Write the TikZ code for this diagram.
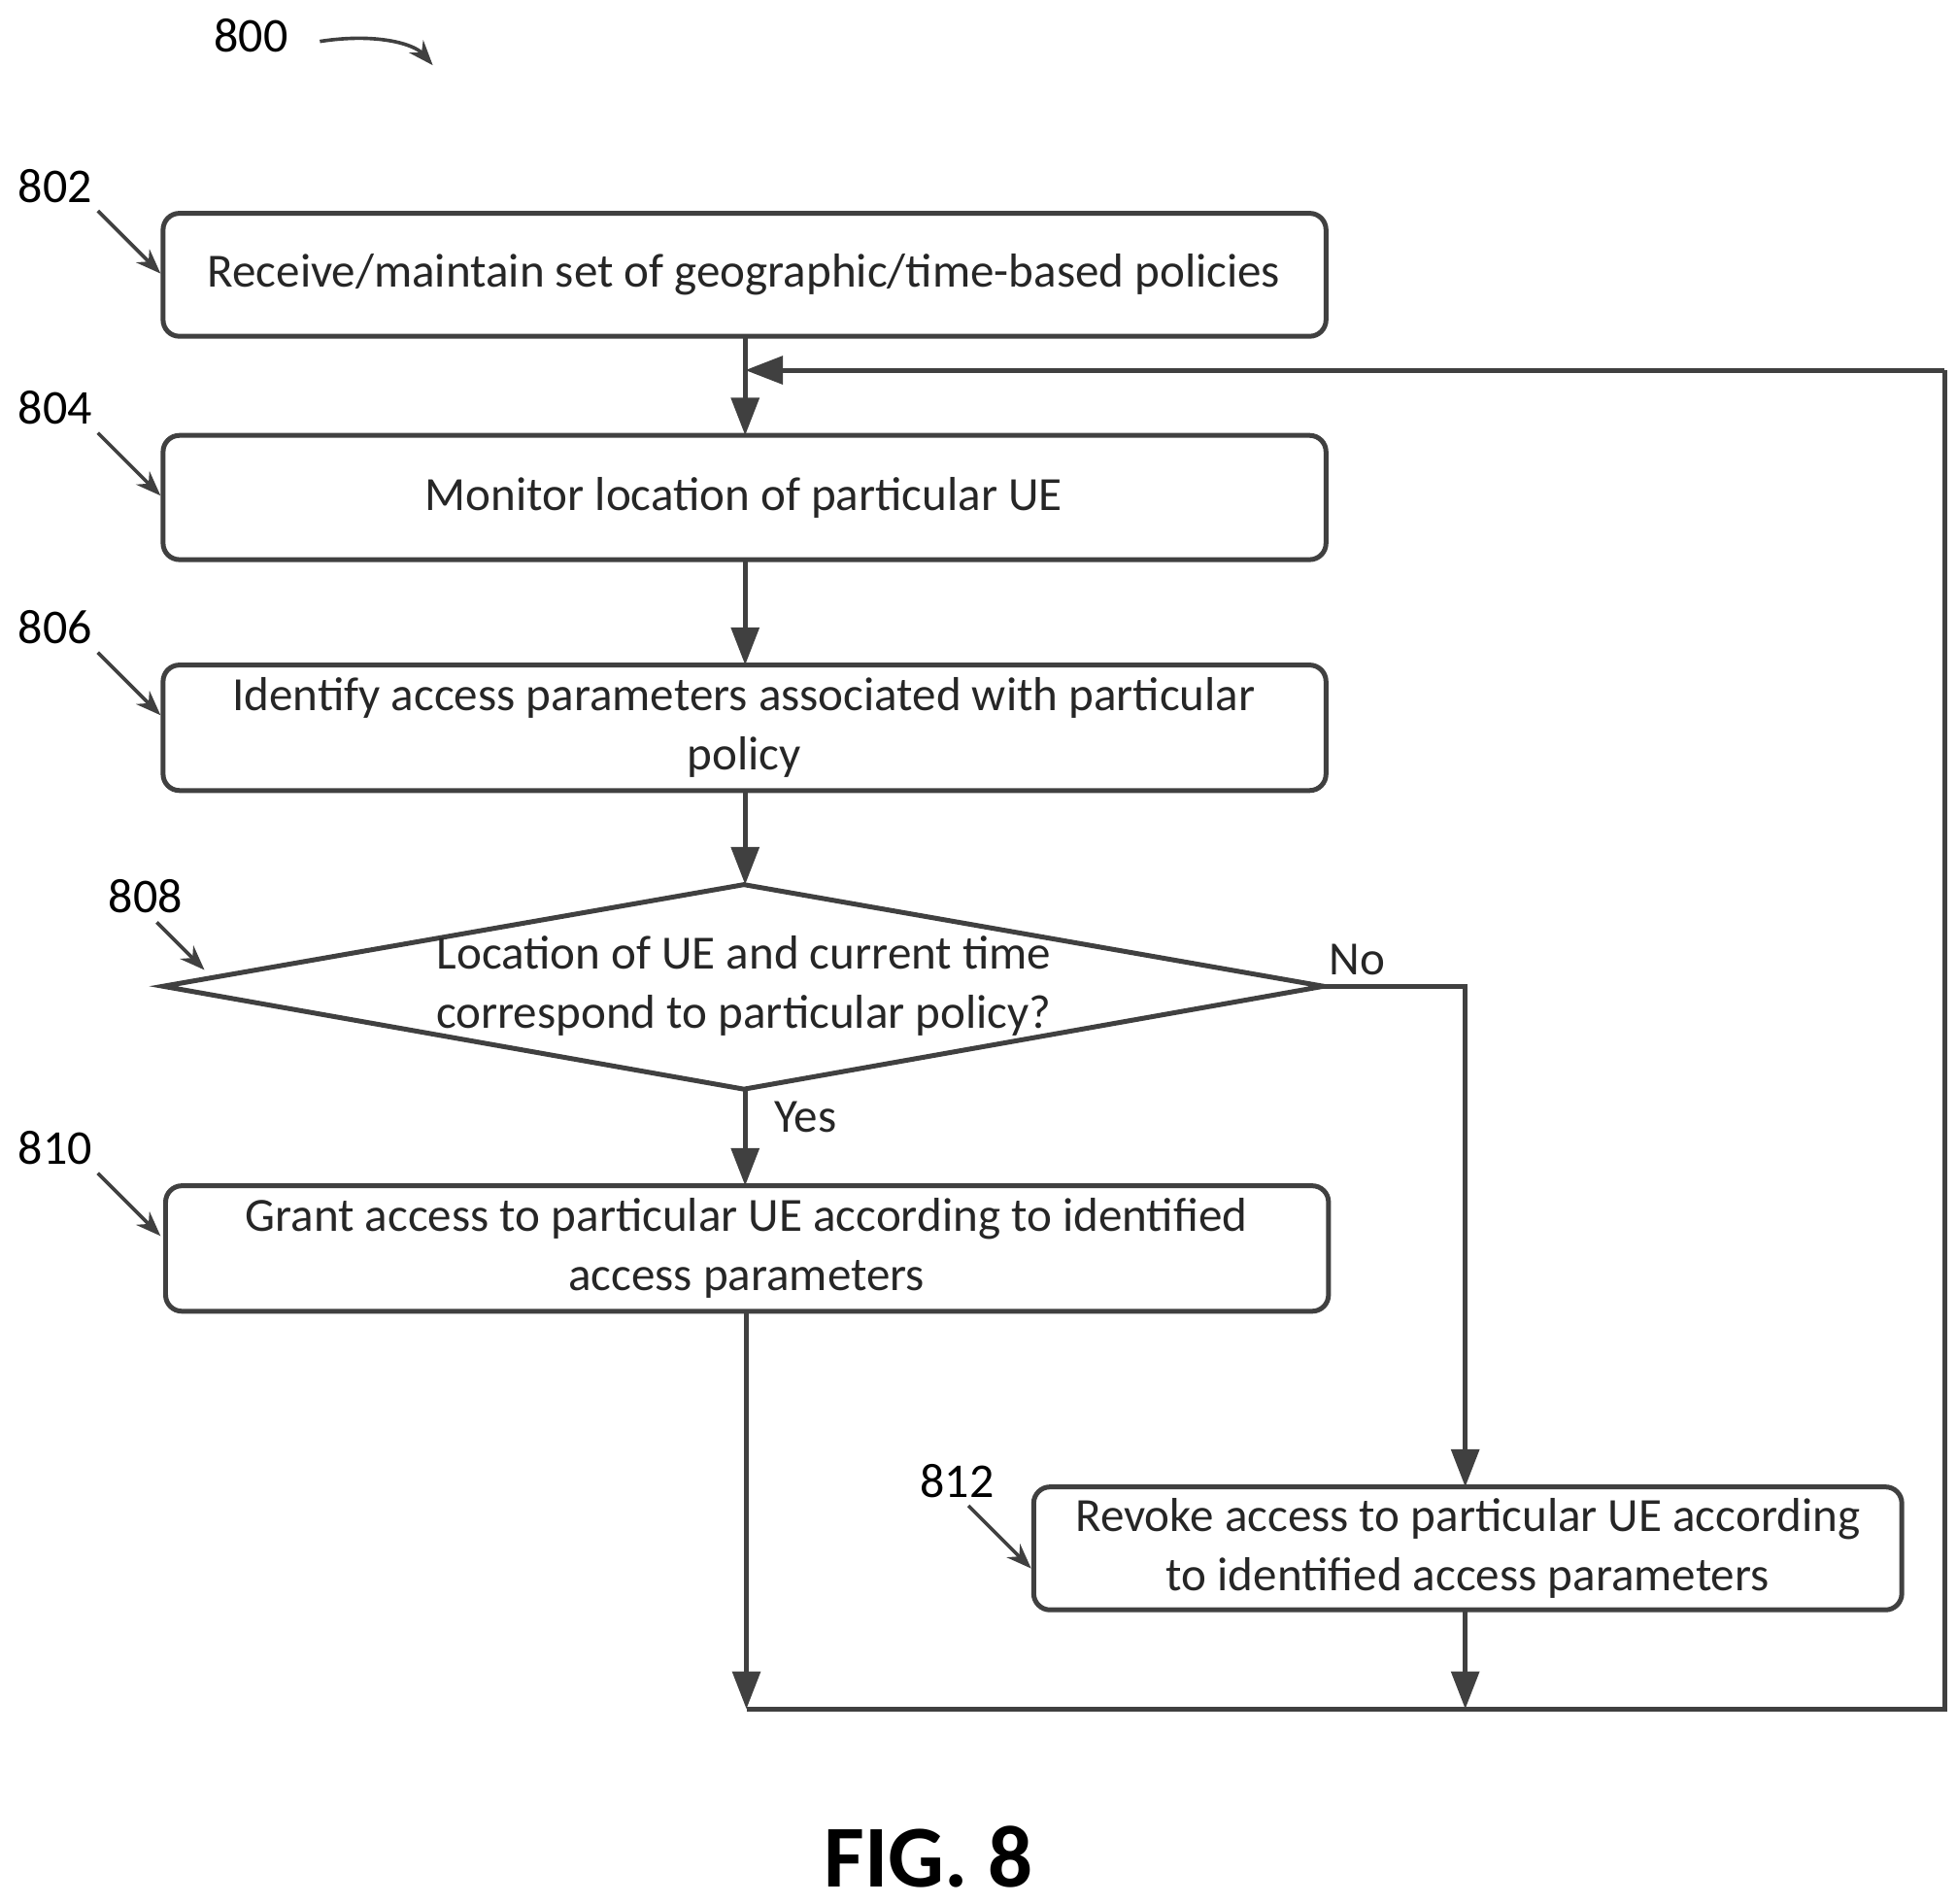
\documentclass[tikz,border=0pt]{standalone}
\usepackage{fontspec}
\setmainfont{Carlito}
\usetikzlibrary{arrows.meta}
\begin{document}
\begin{tikzpicture}[x=0.01cm,y=-0.01cm,
  box/.style={draw=black!75,line width=1.1pt,rounded corners=0.13cm},
  ln/.style={draw=black!75,line width=1.1pt},
  arr/.style={ln,-{Triangle[length=0.3cm,width=0.22cm]}},
  lab/.style={font=\fontsize{11}{13}\selectfont},
  txt/.style={align=center,font=\fontsize{10.8}{13.4}\selectfont,text=black!85}]
\useasboundingbox (0,0) rectangle (1560,1517);
% boxes
\draw[box] (130,170) rectangle (1057,268); \node[txt] (b802) at (593,219) {Receive/maintain set of geographic/time-based policies};
\draw[box] (130,347) rectangle (1057,446); \node[txt] (b804) at (593,397) {Monitor location of particular UE};
\draw[box] (130,530) rectangle (1057,630); \node[txt] (b806) at (593,580) {Identify access parameters associated with particular\\policy};
\draw[ln] (130,786) -- (593,705) -- (1055,786) -- (593,868) -- cycle;
\node[txt] (d808) at (593,786) {Location of UE and current time\\correspond to particular policy?};
\draw[box] (132,945) rectangle (1059,1045); \node[txt] (b810) at (595,995) {Grant access to particular UE according to identified\\access parameters};
\draw[box] (824,1185) rectangle (1516,1283); \node[txt] (b812) at (1170,1234) {Revoke access to particular UE according\\to identified access parameters};
% connectors
\draw[arr] (594,268) -- (594,347);
\draw[arr] (594,446) -- (594,530);
\draw[arr] (594,630) -- (594,705);
\draw[arr] (594,868) -- (594,945);
\node[txt,anchor=west] at (605,890) {Yes};
\draw[arr] (1055,786) -- (1168,786) -- (1168,1185);
\node[txt] at (1082,765) {No};
\draw[arr] (595,1045) -- (595,1362);
\draw[arr] (1168,1283) -- (1168,1362);
\draw[ln] (595,1362) -- (1550,1362) -- (1550,295);
\draw[arr] (1550,295) -- (594,295);
% ref labels
\node[lab] (l800) at (200,28) {800};
\draw[ln,line width=0.8pt,-{Stealth[length=0.2cm]}] (255,33) .. controls (300,26) and (330,35) .. (345,52);
\foreach \n/\y in {802/148,804/325,806/500,810/915}{
  \node[lab] (l\n) at (44,\y) {\n};
  \draw[ln,line width=0.8pt,-{Stealth[length=0.2cm]}] (78,\y+20) -- (128,\y+70);
}
\node[lab] (l808) at (116,714) {808};
\draw[ln,line width=0.8pt,-{Stealth[length=0.2cm]}] (125,735) -- (163,773);
\node[lab] (l812) at (763,1180) {812};
\draw[ln,line width=0.8pt,-{Stealth[length=0.2cm]}] (772,1200) -- (822,1250);
\node[font=\bfseries\fontsize{20}{24}\selectfont] (fig) at (740,1480) {FIG. 8};
\end{tikzpicture}
\end{document}
